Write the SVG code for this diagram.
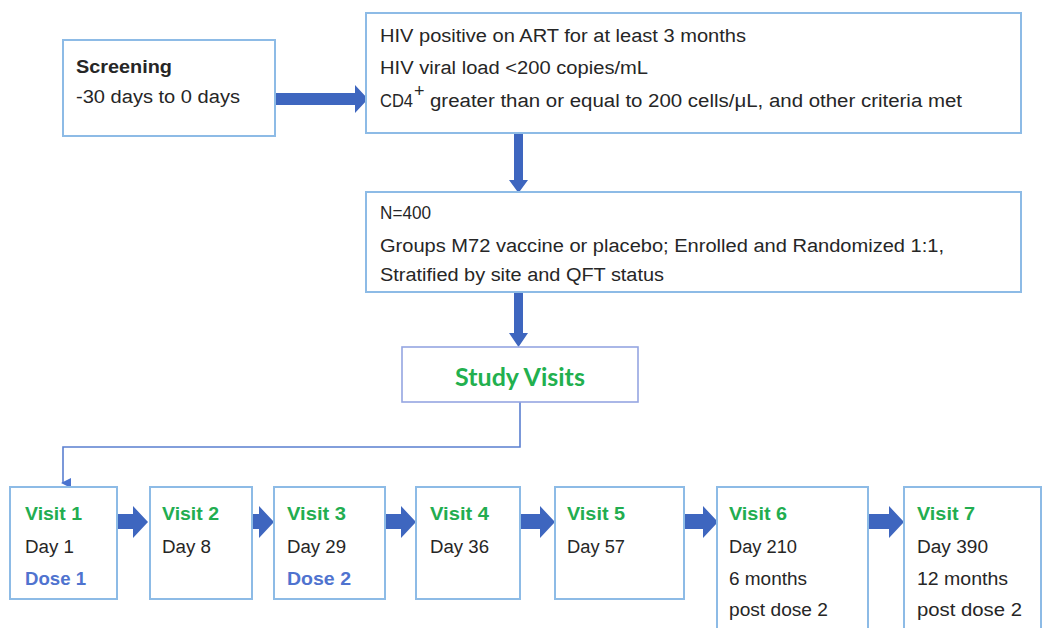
<svg xmlns="http://www.w3.org/2000/svg" width="1048" height="628" viewBox="0 0 1048 628">
<defs>
<style>
.box{fill:#fff;stroke:#8dbbe6;stroke-width:2}
.sv{fill:#fff;stroke:#95a6e2;stroke-width:1.6}
.t{font-family:"Liberation Sans",Arial,sans-serif;font-size:18px;fill:#262626}
.b{font-weight:bold}
.g{font-family:"Liberation Sans",Arial,sans-serif;font-size:18px;font-weight:bold;fill:#22ad50}
.d{font-family:"Liberation Sans",Arial,sans-serif;font-size:18px;font-weight:bold;fill:#4f73cf}
.arr{fill:#3e66bf}
.ln{fill:none;stroke:#5a7fd0;stroke-width:1.6}
</style>
<marker id="ah" markerWidth="10" markerHeight="10" refX="5" refY="8" orient="auto" markerUnits="userSpaceOnUse" viewBox="0 0 10 10">
<path d="M0,0 L10,0 L5,10 Z" fill="#4a73cf"/>
</marker>
</defs>
<rect width="1048" height="628" fill="#fff"/>

<g id="connectors">
<polygon class="arr" points="273,93 355,93 355,85 368,99 355,113 355,105 273,105"/>
<polygon class="arr" points="514,133 523,133 523,180 528,180 518.5,193 509,180 514,180"/>
<polygon class="arr" points="514,292 523,292 523,333 528,333 518.5,347 509,333 514,333"/>
<path class="ln" d="M520,402 V447 H63 V483" marker-end="url(#ah)"/>
<polygon class="arr" points="117,514 133,514 133,506 148,522 133,538 133,529 117,529"/>
<polygon class="arr" points="243,514 259,514 259,506 274,522 259,538 259,529 243,529"/>
<polygon class="arr" points="385,514 401,514 401,506 416,522 401,538 401,529 385,529"/>
<polygon class="arr" points="520,514 540,514 540,506 555,522 540,538 540,529 520,529"/>
<polygon class="arr" points="684,514 703,514 703,506 718,522 703,538 703,529 684,529"/>
<polygon class="arr" points="868,514 889,514 889,506 904,522 889,538 889,529 868,529"/>
</g>

<g id="screening">
<rect class="box" x="63" y="40" width="212" height="96"/>
<text class="t b" x="76" y="73" textLength="96" lengthAdjust="spacingAndGlyphs">Screening</text>
<text class="t" x="76" y="103" textLength="164" lengthAdjust="spacingAndGlyphs">-30 days to 0 days</text>
</g>

<g id="criteria">
<rect class="box" x="366" y="13" width="655" height="120"/>
<text class="t" x="380" y="42" textLength="366" lengthAdjust="spacingAndGlyphs">HIV positive on ART for at least 3 months</text>
<text class="t" x="380" y="74" textLength="268" lengthAdjust="spacingAndGlyphs">HIV viral load &lt;200 copies/mL</text>
<text class="t" x="380" y="107" textLength="33" lengthAdjust="spacingAndGlyphs">CD4</text>
<text class="t" x="414" y="97" font-size="9">+</text>
<text class="t" x="430" y="107" textLength="532" lengthAdjust="spacingAndGlyphs">greater than or equal to 200 cells/μL, and other criteria met</text>
</g>

<g id="randomization">
<rect class="box" x="366" y="192" width="655" height="100"/>
<text class="t" x="380" y="219" textLength="51" lengthAdjust="spacingAndGlyphs">N=400</text>
<text class="t" x="380" y="252" textLength="564" lengthAdjust="spacingAndGlyphs">Groups M72 vaccine or placebo; Enrolled and Randomized 1:1,</text>
<text class="t" x="380" y="281" textLength="284" lengthAdjust="spacingAndGlyphs">Stratified by site and QFT status</text>
</g>

<g id="study-visits">
<rect class="sv" x="402" y="347" width="236" height="55"/>
<text x="520" y="386" text-anchor="middle" font-family="Lato,'Open Sans',sans-serif" font-size="25" font-weight="bold" fill="#22b04e">Study Visits</text>
</g>

<g id="visit1">
<rect class="box" x="10" y="487" width="107" height="112"/>
<text class="g" x="25" y="520" textLength="57" lengthAdjust="spacingAndGlyphs">Visit 1</text>
<text class="t" x="25" y="553" textLength="49" lengthAdjust="spacingAndGlyphs">Day 1</text>
<text class="d" x="25" y="585" textLength="61" lengthAdjust="spacingAndGlyphs">Dose 1</text>
</g>

<g id="visit2">
<rect class="box" x="150" y="487" width="102" height="112"/>
<text class="g" x="162" y="520" textLength="57" lengthAdjust="spacingAndGlyphs">Visit 2</text>
<text class="t" x="162" y="553" textLength="49" lengthAdjust="spacingAndGlyphs">Day 8</text>
</g>

<g id="visit3">
<rect class="box" x="274" y="487" width="111" height="112"/>
<text class="g" x="287" y="520" textLength="59" lengthAdjust="spacingAndGlyphs">Visit 3</text>
<text class="t" x="287" y="553" textLength="59" lengthAdjust="spacingAndGlyphs">Day 29</text>
<text class="d" x="287" y="585" textLength="64" lengthAdjust="spacingAndGlyphs">Dose 2</text>
</g>

<g id="visit4">
<rect class="box" x="416" y="487" width="104" height="112"/>
<text class="g" x="430" y="520" textLength="59" lengthAdjust="spacingAndGlyphs">Visit 4</text>
<text class="t" x="430" y="553" textLength="59" lengthAdjust="spacingAndGlyphs">Day 36</text>
</g>

<g id="visit5">
<rect class="box" x="555" y="487" width="129" height="112"/>
<text class="g" x="567" y="520" textLength="58" lengthAdjust="spacingAndGlyphs">Visit 5</text>
<text class="t" x="567" y="553" textLength="58" lengthAdjust="spacingAndGlyphs">Day 57</text>
</g>

<g id="visit6">
<rect class="box" x="717" y="487" width="151" height="150"/>
<text class="g" x="729" y="520" textLength="58" lengthAdjust="spacingAndGlyphs">Visit 6</text>
<text class="t" x="729" y="553" textLength="68" lengthAdjust="spacingAndGlyphs">Day 210</text>
<text class="t" x="729" y="585" textLength="78" lengthAdjust="spacingAndGlyphs">6 months</text>
<text class="t" x="729" y="616" textLength="99" lengthAdjust="spacingAndGlyphs">post dose 2</text>
</g>

<g id="visit7">
<rect class="box" x="904" y="487" width="137" height="150"/>
<text class="g" x="917" y="520" textLength="58" lengthAdjust="spacingAndGlyphs">Visit 7</text>
<text class="t" x="917" y="553" textLength="71" lengthAdjust="spacingAndGlyphs">Day 390</text>
<text class="t" x="917" y="585" textLength="91" lengthAdjust="spacingAndGlyphs">12 months</text>
<text class="t" x="917" y="616" textLength="105" lengthAdjust="spacingAndGlyphs">post dose 2</text>
</g>
</svg>
